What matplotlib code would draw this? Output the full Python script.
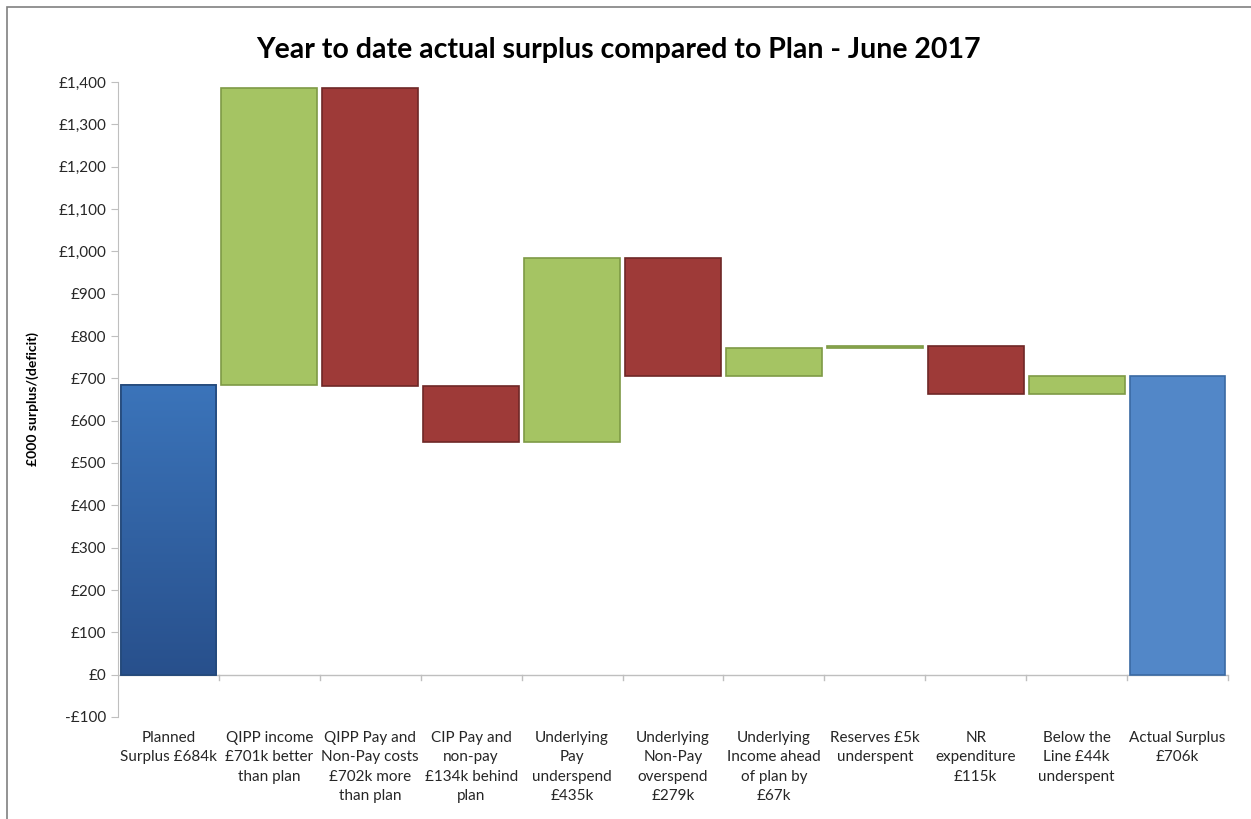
import matplotlib
matplotlib.use("Agg")
import matplotlib.pyplot as plt
import numpy as np
from matplotlib.patches import Rectangle
from matplotlib.colors import LinearSegmentedColormap
from matplotlib.ticker import FuncFormatter, MultipleLocator

categories = [
    "Planned\nSurplus £684k",
    "QIPP income\n£701k better\nthan plan",
    "QIPP Pay and\nNon-Pay costs\n£702k more\nthan plan",
    "CIP Pay and\nnon-pay\n£134k behind\nplan",
    "Underlying\nPay\nunderspend\n£435k",
    "Underlying\nNon-Pay\noverspend\n£279k",
    "Underlying\nIncome ahead\nof plan by\n£67k",
    "Reserves £5k\nunderspent",
    "NR\nexpenditure\n£115k",
    "Below the\nLine £44k\nunderspent",
    "Actual Surplus\n£706k",
]
planned_surplus = 684
changes = [701, -702, -134, 435, -279, 67, 5, -115, 44]
actual_surplus = 706

plt.rcParams['font.family'] = ['Lato', 'DejaVu Sans']

fig = plt.figure(figsize=(12.51, 8.19), dpi=100)
ax = fig.add_axes([118/1251, 1-717/819, (1228-118)/1251, (717-82)/819])

green = "#A5C463"
green_edge = "#7E9A45"
red = "#9E3A38"
red_edge = "#6E2726"
blue_plan = "#3068AC"
blue_plan_edge = "#24497A"
blue_act = "#5287C8"
blue_act_edge = "#3A6AA3"

w = 0.95
bottoms, heights, colors, edges = [], [], [], []
bottoms.append(0); heights.append(planned_surplus); colors.append(blue_plan); edges.append(blue_plan_edge)
level = planned_surplus
for c in changes:
    new = level + c
    bottoms.append(min(level, new))
    heights.append(abs(c))
    colors.append(green if c > 0 else red)
    edges.append(green_edge if c > 0 else red_edge)
    level = new
bottoms.append(0); heights.append(actual_surplus); colors.append(blue_act); edges.append(blue_act_edge)

x = list(range(len(categories)))
bars = ax.bar(x, heights, bottom=bottoms, width=w, color=colors, edgecolor=edges, linewidth=1.2, zorder=3)

# gradient fill on the planned bar (darker toward the bottom)
p0 = bars[0]
cmap = LinearSegmentedColormap.from_list("pl", ["#28508C", "#3B74BA"])
grad = np.linspace(0, 1, 256).reshape(-1, 1)
im = ax.imshow(grad, cmap=cmap, aspect="auto", origin="lower",
               extent=[p0.get_x(), p0.get_x() + p0.get_width(), 0, planned_surplus], zorder=3.5)
im.set_clip_path(p0)
ax.bar([0], [planned_surplus], width=w, fill=False, edgecolor=blue_plan_edge, linewidth=1.2, zorder=4)

ax.set_xlim(-0.5, len(categories) - 0.5)
ax.set_ylim(-100, 1400)
ax.yaxis.set_major_locator(MultipleLocator(100))

def fmt(v, pos):
    v = int(round(v))
    if v < 0:
        return "-£{:,}".format(-v)
    return "£{:,}".format(v)
ax.yaxis.set_major_formatter(FuncFormatter(fmt))

for s in ["top", "right", "bottom"]:
    ax.spines[s].set_visible(False)
ax.spines["left"].set_color("#BFBFBF")
ax.axhline(0, color="#BFBFBF", linewidth=1, zorder=2)

ax.tick_params(axis="y", colors="#BFBFBF", labelcolor="#262626", labelsize=11, length=5, direction="out")
ax.set_xticks([])
for b in range(1, len(categories) + 1):
    ax.plot([b - 0.5, b - 0.5], [0, -12], color="#BFBFBF", linewidth=1, clip_on=False, zorder=2)

for i, lab in enumerate(categories):
    ax.text(i, -133, lab, ha="center", va="top", fontsize=11, color="#262626", linespacing=1.5)

ax.set_ylabel("£000 surplus/(deficit)", fontsize=10, fontweight="bold", color="black", labelpad=14)

fig.text(618/1251, 1-50/819, "Year to date actual surplus compared to Plan - June 2017",
         ha="center", va="center", fontsize=20.5, fontweight="bold", color="black")

fig.patches.append(Rectangle((7/1251, -0.1), 1.2, 1-7/819 + 0.1, transform=fig.transFigure,
                             fill=False, edgecolor="#808080", linewidth=1.2))

fig.savefig("out.png", dpi=100)
